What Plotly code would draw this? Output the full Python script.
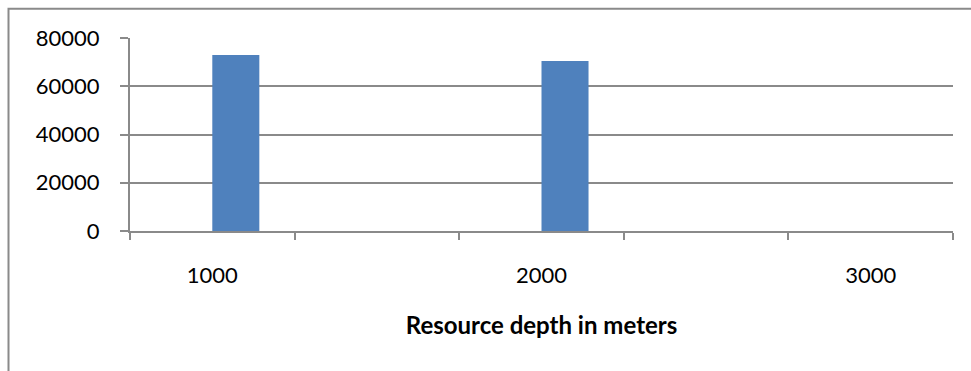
import plotly.graph_objects as go

# Resource depth categories (every other one is labelled on the axis)
depths = ["1000", "1500", "2000", "2500", "3000"]
labelled_depths = ["1000", "2000", "3000"]
series_a = [None, None, None, None, None]
series_b = [73000, None, 70500, None, None]

x_pos = list(range(len(depths)))
label_pos = [depths.index(d) for d in labelled_depths]
boundaries = [i - 0.5 for i in range(len(depths) + 1)]

grid_col = "#8a8a8a"
font_family = "Lato, Carlito, Calibri, sans-serif"

fig = go.Figure()
fig.add_trace(go.Bar(x=x_pos, y=series_a, marker_color="#C0504D", showlegend=False))
fig.add_trace(go.Bar(x=x_pos, y=series_b, marker_color="#4F81BD",
                     marker_line_width=0, showlegend=False))

W, H = 971, 371
ml, mr, mt, mb = 130, 18, 38, 140
pw, ph = W - ml - mr, H - mt - mb

fig.update_layout(
    width=W, height=H,
    margin=dict(l=ml, r=mr, t=mt, b=mb, pad=0),
    paper_bgcolor="white", plot_bgcolor="white",
    barmode="group", bargap=0.4286, bargroupgap=0,
    font=dict(family=font_family, color="black"),
    xaxis=dict(
        range=[-0.5, len(depths) - 0.5],
        tickmode="array", tickvals=label_pos, ticktext=labelled_depths,
        ticks="", ticklabelstandoff=24,
        tickfont=dict(size=22),
        showgrid=False, zeroline=False,
        showline=True, linecolor=grid_col, linewidth=2,
        minor=dict(tickmode="array", tickvals=boundaries, ticks="outside",
                   ticklen=7, tickwidth=2, tickcolor=grid_col, showgrid=False),
        title=dict(text="<b>Resource depth in meters</b>",
                   font=dict(size=24), standoff=30),
    ),
    yaxis=dict(
        range=[0, 80000], tickmode="array",
        tickvals=[0, 20000, 40000, 60000, 80000],
        ticktext=["0", "20000", "40000", "60000", "80000"],
        ticks="outside", ticklen=8, tickwidth=2, tickcolor=grid_col,
        ticklabelstandoff=16,
        tickfont=dict(size=22),
        showgrid=True, gridcolor=grid_col, gridwidth=2,
        zeroline=False, showline=True, linecolor=grid_col, linewidth=2,
    ),
)

# Chart-area border (left and top edges inside the page)
fig.add_shape(
    type="rect", xref="paper", yref="paper",
    x0=(8.5 - ml) / pw, x1=1 + (mr + 20) / pw,
    y0=-(mb + 20) / ph, y1=1 + (mt - 8.7) / ph,
    line=dict(color=grid_col, width=2), fillcolor="rgba(0,0,0,0)", layer="below",
)

fig.write_html("out.html")
